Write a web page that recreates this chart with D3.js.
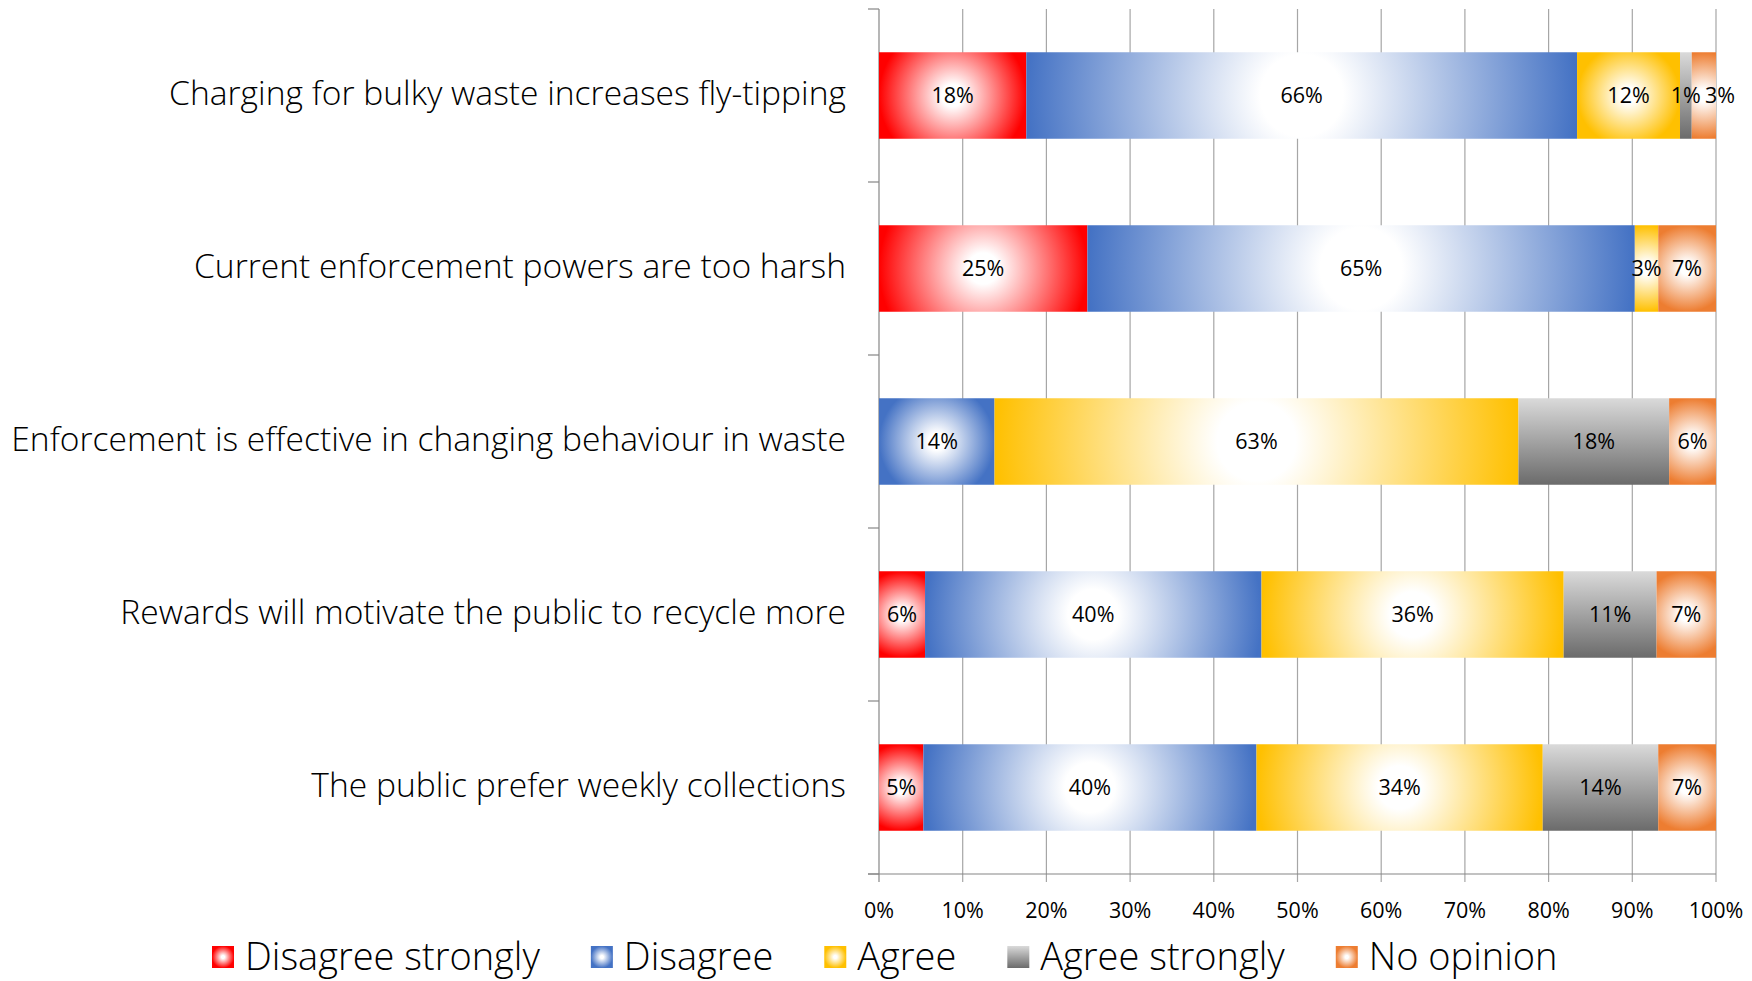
<!DOCTYPE html>
<html><head><meta charset="utf-8">
<script src="https://cdn.jsdelivr.net/npm/d3@7"></script>
<style>body{margin:0;background:#fff} svg{display:block}</style>
</head><body><svg id="chart" width="1752" height="981"></svg>
<script>
const categories = [
  "Charging for bulky waste increases fly-tipping",
  "Current enforcement powers are too harsh",
  "Enforcement is effective in changing behaviour in waste",
  "Rewards will motivate the public to recycle more",
  "The public prefer weekly collections"
];
const seriesNames = ["Disagree strongly", "Disagree", "Agree", "Agree strongly", "No opinion"];
const disagreeStrongly = [17.6, 24.9, 0, 5.5, 5.3];
const disagree = [65.8, 65.4, 13.8, 40.2, 39.8];
const agree = [12.3, 2.8, 62.6, 36.1, 34.2];
const agreeStrongly = [1.4, 0, 18.0, 11.1, 13.8];
const noOpinion = [2.9, 6.9, 5.6, 7.1, 6.9];
const xTicks = [0, 10, 20, 30, 40, 50, 60, 70, 80, 90, 100];
const seriesColors = ["#FF0000", "#4472C4", "#FFC000", "#7F7F7F", "#ED7D31"];

const seriesValues = [disagreeStrongly, disagree, agree, agreeStrongly, noOpinion];
const rows = categories.map((c, i) => {
  const r = {cat: c};
  seriesNames.forEach((s, j) => r[s] = seriesValues[j][i]);
  return r;
});

const svg = d3.select("#chart");
const plot = {left: 879, right: 1716, top: 9, bottom: 874};
const x = d3.scaleLinear().domain([0, 100]).range([plot.left, plot.right]);
const y = d3.scaleBand().domain(categories).range([plot.top, plot.bottom]).paddingInner(0.5).paddingOuter(0.25);
const yEdge = d3.scaleLinear().domain([0, categories.length]).range([plot.top, plot.bottom]);

const defs = svg.append("defs");
const labelFont = "'Open Sans', 'Lato', sans-serif";
const numFont = "'Open Sans', sans-serif";
const numSize = 21.5;

// gridlines
svg.append("g").selectAll("line").data(xTicks).join("line")
  .attr("x1", d => x(d)).attr("x2", d => x(d))
  .attr("y1", plot.top).attr("y2", plot.bottom + 8)
  .attr("stroke", d => d === 0 ? "#868686" : "#a6a6a6").attr("stroke-width", 1.2);
// left axis ticks at band edges
svg.append("g").selectAll("line").data(d3.range(categories.length + 1)).join("line")
  .attr("x1", plot.left - 11).attr("x2", plot.left)
  .attr("y1", d => yEdge(d)).attr("y2", d => yEdge(d))
  .attr("stroke", "#868686").attr("stroke-width", 1.2);
// bottom axis line
svg.append("line").attr("x1", plot.left - 11).attr("x2", plot.right)
  .attr("y1", plot.bottom).attr("y2", plot.bottom)
  .attr("stroke", "#868686").attr("stroke-width", 1.2);

// tick labels
svg.append("g").selectAll("text").data(xTicks).join("text")
  .attr("x", d => x(d)).attr("y", plot.bottom + 44)
  .attr("text-anchor", "middle")
  .attr("font-family", numFont).attr("font-size", numSize).attr("fill", "#000")
  .text(d => d + "%");

// stacked bars
const stacked = d3.stack().keys(seriesNames)(rows);

function addGradient(id, si, w, h, cx, cy) {
  const col = seriesColors[si];
  if (si === 3) {
    const g = defs.append("linearGradient").attr("id", id)
      .attr("x1", 0).attr("y1", 0).attr("x2", 0).attr("y2", 1);
    g.append("stop").attr("offset", 0).attr("stop-color", "#dadada");
    g.append("stop").attr("offset", 1).attr("stop-color", "#6b6b6b");
  } else {
    const g = defs.append("radialGradient").attr("id", id)
      .attr("gradientUnits", "userSpaceOnUse")
      .attr("cx", cx).attr("cy", cy).attr("fx", cx).attr("fy", cy)
      .attr("r", Math.max(w, h) / 2);
    g.append("stop").attr("offset", 0).attr("stop-color", "#ffffff");
    g.append("stop").attr("offset", 0.15).attr("stop-color", "#ffffff");
    g.append("stop").attr("offset", 1).attr("stop-color", col);
  }
}

stacked.forEach((layer, si) => {
  const g = svg.append("g");
  layer.forEach((d, ci) => {
    if (d[1] - d[0] <= 0) return;
    const x0 = x(d[0]), w = x(d[1]) - x(d[0]);
    const y0 = y(d.data.cat), h = y.bandwidth();
    const id = `g${si}_${ci}`;
    addGradient(id, si, w, h, x0 + w / 2, y0 + h / 2);
    g.append("rect").attr("x", x0).attr("y", y0).attr("width", w).attr("height", h)
      .attr("fill", `url(#${id})`);
  });
});

// data labels, nudged right when they collide with the previous label in the row
const labG = svg.append("g");
categories.forEach((c, ci) => {
  let prevRight = -Infinity;
  stacked.forEach((layer) => {
    const d = layer[ci];
    const v = d[1] - d[0];
    if (v <= 0) return;
    const t = labG.append("text")
      .attr("y", y(c) + y.bandwidth() / 2).attr("dy", "0.36em").attr("text-anchor", "middle")
      .attr("font-family", numFont).attr("font-size", numSize).attr("fill", "#000")
      .text(Math.round(v) + "%");
    const tw = t.node().getComputedTextLength();
    let cx = x((d[0] + d[1]) / 2);
    if (cx - tw / 2 < prevRight + 4) cx = prevRight + 4 + tw / 2;
    t.attr("x", cx);
    prevRight = cx + tw / 2;
  });
});

// category labels
const catTexts = svg.append("g").selectAll("text").data(categories).join("text")
  .attr("x", 846).attr("y", d => y(d) + y.bandwidth() / 2)
  .attr("dy", "0.28em").attr("text-anchor", "end")
  .attr("font-family", labelFont).attr("font-weight", 300).attr("font-size", 34).attr("fill", "#000")
  .text(d => d);
const maxW = d3.max(catTexts.nodes(), n => n.getComputedTextLength());
const catSize = 34 * 835 / maxW;
catTexts.attr("font-size", catSize);

// legend
const legG = svg.append("g");
let lx = 212;
const legY = 957;
seriesNames.forEach((s, si) => {
  const id = `leg${si}`;
  const sq = 22;
  addGradient(id, si, sq, sq, lx + sq / 2, legY);
  legG.append("rect").attr("x", lx).attr("y", legY - sq / 2).attr("width", sq).attr("height", sq)
    .attr("fill", `url(#${id})`);
  const t = legG.append("text").attr("x", lx + sq + 11).attr("y", legY).attr("dy", "0.35em")
    .attr("font-family", labelFont).attr("font-weight", 300).attr("font-size", catSize * 1.13)
    .attr("fill", "#000").text(s);
  lx += sq + 11 + t.node().getComputedTextLength() + 51;
});
</script>
</body></html>
